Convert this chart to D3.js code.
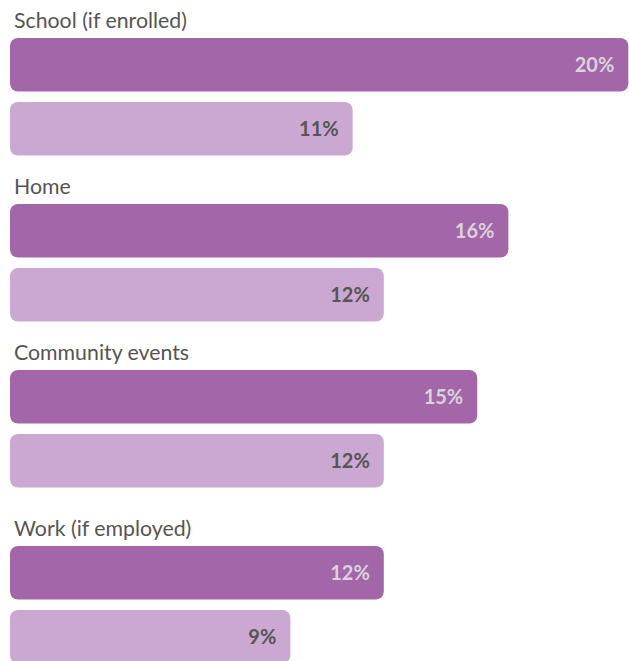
<!DOCTYPE html>
<html>
<head>
<meta charset="utf-8">
<script src="https://cdn.jsdelivr.net/npm/d3@7"></script>
<style>
  html, body { margin: 0; padding: 0; background: #fff; overflow: hidden; }
  svg { display: block; }
</style>
</head>
<body>
<div id="chart"></div>
<script>
const categories = ["School (if enrolled)", "Home", "Community events", "Work (if employed)"];
const seriesNames = ["Group A", "Group B"];
const seriesA = [19.85, 16, 15, 12];
const seriesB = [11, 12, 12, 9];

const W = 629, H = 661;
const colors = ["#a366a8", "#caa8d1"];
const labelColors = ["#d9d4d9", "#555555"];

const svg = d3.select("#chart").append("svg")
  .attr("width", W).attr("height", H);

const x = d3.scaleLinear().domain([0, 20]).range([10, 633]);

const groupStep = 166;
const groupY = d3.scaleBand().domain(categories).range([0, groupStep * categories.length]);
const extraOffset = i => (i === 3 ? 10 : 0);
const baseY = 28;

const barH = 53.5, barGap = 10.5;

const data = categories.map((c, i) => ({
  cat: c, i,
  vals: [seriesA[i], seriesB[i]]
}));

const g = svg.selectAll("g.grp").data(data).join("g")
  .attr("class", "grp")
  .attr("transform", d => `translate(0,${baseY + groupY(d.cat) + extraOffset(d.i)})`);

g.append("text")
  .attr("x", 14).attr("y", 0)
  .attr("font-family", "Lato, sans-serif")
  .attr("font-size", 21.3)
  .attr("fill", "#555555")
  .text(d => d.cat);

const bars = g.selectAll("g.bar").data(d => d.vals.map((v, k) => ({ v, k }))).join("g").attr("class", "bar");

bars.append("rect")
  .attr("x", x(0))
  .attr("y", d => 10 + d.k * (barH + barGap))
  .attr("width", d => x(d.v) - x(0))
  .attr("height", barH)
  .attr("rx", 8).attr("ry", 8)
  .attr("fill", d => colors[d.k]);

bars.append("text")
  .attr("x", d => Math.min(x(d.v), 633) - 14)
  .attr("y", d => 10 + d.k * (barH + barGap) + barH / 2)
  .attr("dy", "0.35em")
  .attr("text-anchor", "end")
  .attr("font-family", "Lato, sans-serif")
  .attr("font-weight", "bold")
  .attr("font-size", 20)
  .attr("fill", d => labelColors[d.k])
  .text(d => d3.format(".0f")(d.v) + "%");
</script>
</body>
</html>
